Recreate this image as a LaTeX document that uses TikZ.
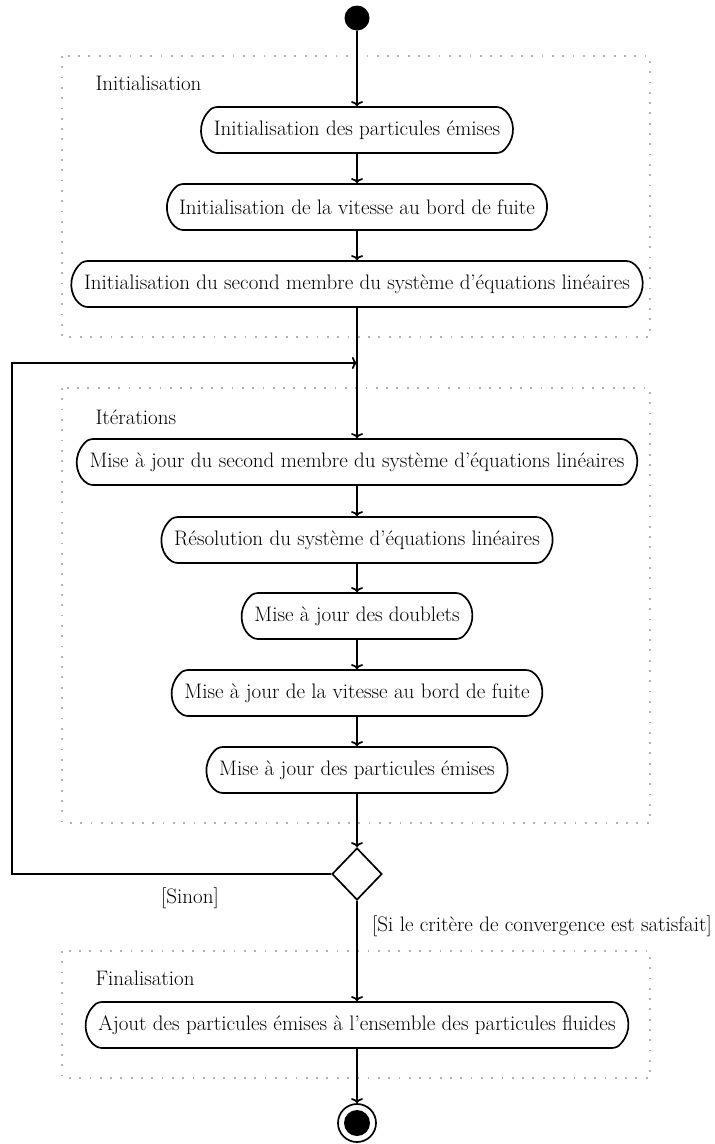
\documentclass[tikz,border=0pt]{standalone}
\usetikzlibrary{shapes.misc,shapes.geometric,arrows.meta}
\begin{document}
\begin{tikzpicture}[x=1pt,y=-1pt,
  every node/.style={font=\fontsize{21}{24}\selectfont},
  act/.style={draw, line width=1.7pt, rounded rectangle, rounded rectangle arc length=120, rounded corners=3pt, minimum height=46pt, inner xsep=11pt, inner ysep=0pt},
  flow/.style={line width=1.7pt, -{To[length=5pt,width=12pt]}},
  grp/.style={draw=black!30, line width=1.8pt, dash pattern=on 1.8pt off 8.5pt},
  glabel/.style={anchor=west}]
\useasboundingbox (0,0) rectangle (715,1144);
% groups
\draw[grp] (62,56) rectangle (650,337);
\draw[grp] (62,388) rectangle (650,823);
\draw[grp] (62,951) rectangle (650,1078);
\node[glabel] (gi) at (92,83) {Initialisation};
\node[glabel] (gt) at (92,417) {Itérations};
\node[glabel] (gf) at (92,978) {Finalisation};
% nodes
\node[fill, circle, minimum size=25pt, inner sep=0pt] (start) at (357,18) {};
\node[act] (a1) at (357,130) {Initialisation des particules émises};
\node[act] (a2) at (357,207) {Initialisation de la vitesse au bord de fuite};
\node[act] (a3) at (357,284) {Initialisation du second membre du système d’équations linéaires};
\coordinate (j) at (357,363);
\node[act] (b1) at (357,462) {Mise à jour du second membre du système d’équations linéaires};
\node[act] (b2) at (357,540) {Résolution du système d’équations linéaires};
\node[act] (b3) at (357,616) {Mise à jour des doublets};
\node[act] (b4) at (357,693) {Mise à jour de la vitesse au bord de fuite};
\node[act] (b5) at (357,770) {Mise à jour des particules émises};
\node[diamond, draw, line width=1.7pt, minimum width=50pt, minimum height=52pt, inner sep=0pt] (d) at (357,874) {};
\node[act] (c1) at (357,1025) {Ajout des particules émises à l’ensemble des particules fluides};
\node[circle, draw, line width=1.7pt, minimum size=38pt, inner sep=0pt] (end) at (357,1123) {};
\node[circle, fill, minimum size=26pt, inner sep=0pt] (endin) at (end) {};
\coordinate (l2) at (12,363);
% labels
\node (sinon) at (190,898) {[Sinon]};
\node[anchor=east, inner sep=0pt] (crit) at (712,926) {[Si le critère de convergence est satisfait]};
% connectors
\draw[flow] (start) -- (a1);
\draw[flow] (a1) -- (a2);
\draw[flow] (a2) -- (a3);
\draw[flow] (a3) -- (b1);
\draw[flow] (b1) -- (b2);
\draw[flow] (b2) -- (b3);
\draw[flow] (b3) -- (b4);
\draw[flow] (b4) -- (b5);
\draw[flow] (b5) -- (d);
\draw[flow] (d.west) -| (l2) -- (j);
\draw[flow] (d) -- (c1);
\draw[flow] (c1) -- (end);
\end{tikzpicture}
\end{document}
